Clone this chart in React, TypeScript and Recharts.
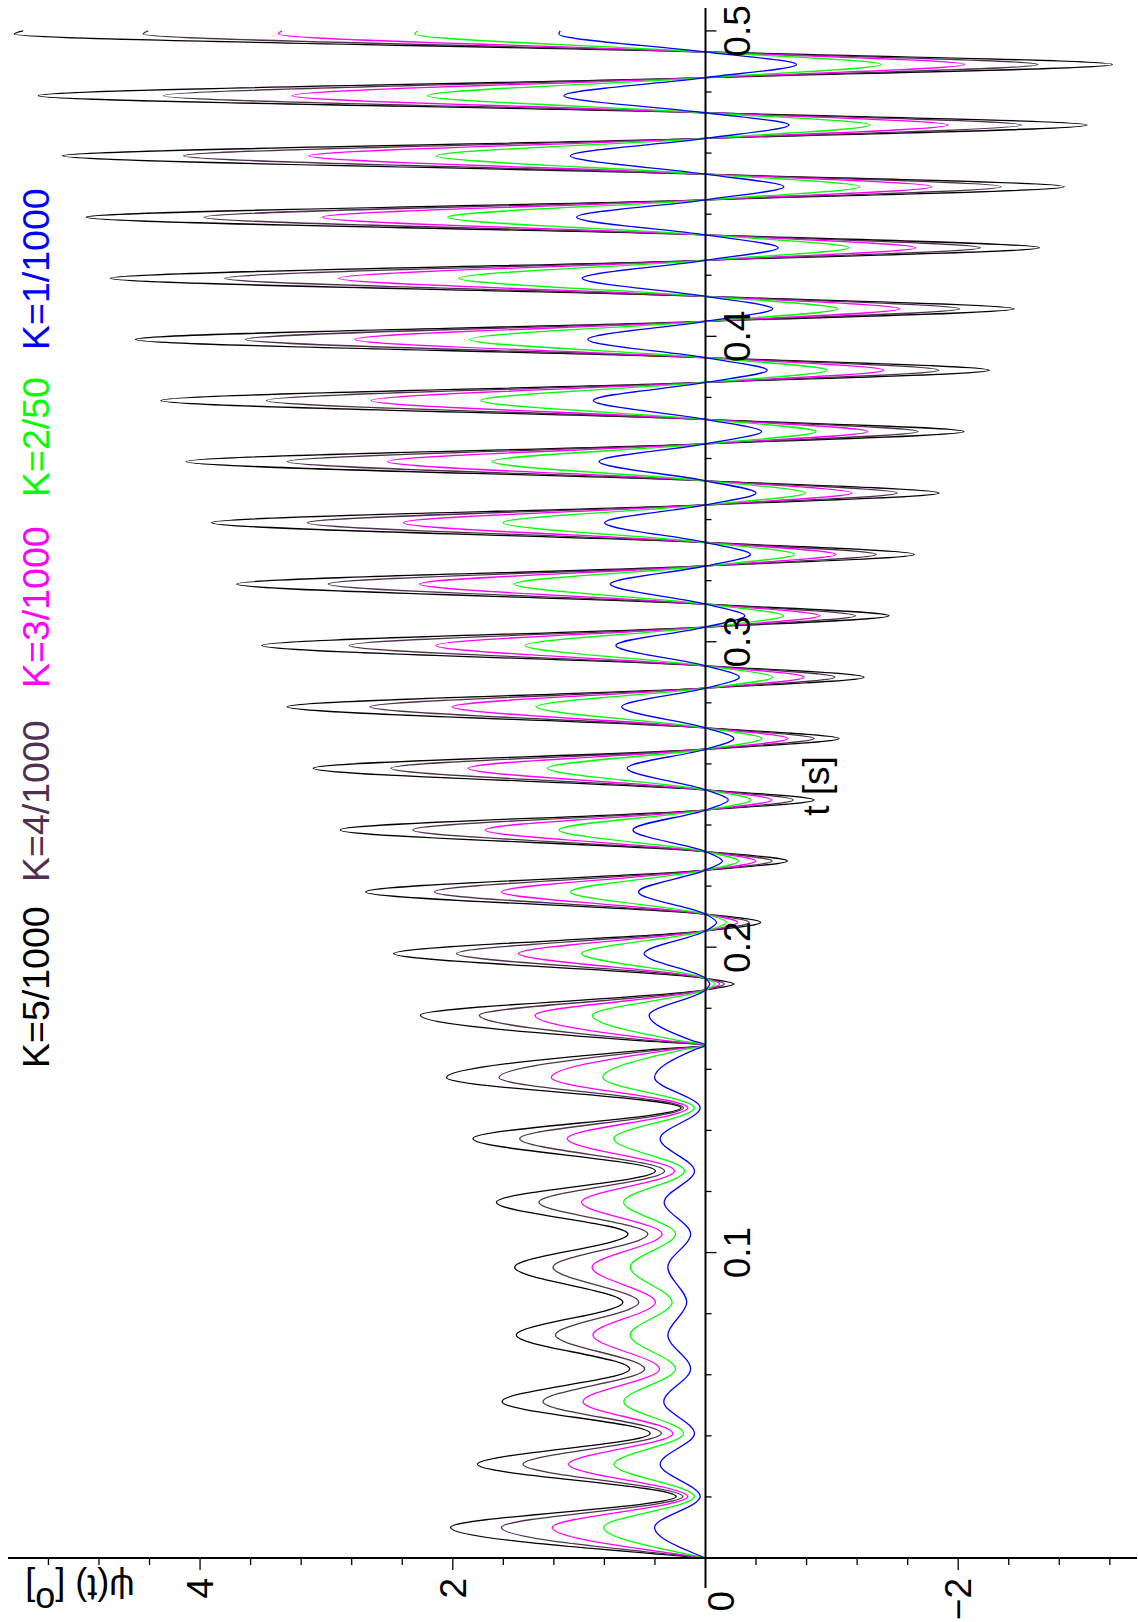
import React from 'react';
import { LineChart, Line, XAxis, YAxis, ReferenceLine } from 'recharts';

// chart is drawn upright (t across, psi up) and the whole thing is turned -90deg
const W = 1622;
const H = 1138;
const AXIS_X = 64;
const ZERO_Y = 705.5;
const FONT = '"Liberation Sans", Arial, Helvetica, sans-serif';

// first part: peaks and troughs before the switching instant
const T_PHASE1 = [0, 0.01, 0.0201, 0.0307, 0.0408, 0.0512, 0.0619, 0.073, 0.0837, 0.0952, 0.1061, 0.1165, 0.1267, 0.1373, 0.1474, 0.1573];
const K5_PHASE1 = [0, 2.018, 0.232, 1.805, 0.438, 1.61, 0.6, 1.497, 0.654, 1.51, 0.614, 1.655, 0.396, 1.84, 0.193, 2.05];
const K4_PHASE1 = [0, 1.615, 0.179, 1.444, 0.35, 1.286, 0.482, 1.188, 0.527, 1.207, 0.456, 1.318, 0.324, 1.47, 0.174, 1.634];
const K3_PHASE1 = [0, 1.212, 0.14, 1.083, 0.258, 0.97, 0.364, 0.891, 0.396, 0.898, 0.343, 0.982, 0.245, 1.093, 0.14, 1.22];
const K2_PHASE1 = [0, 0.806, 0.087, 0.725, 0.174, 0.646, 0.237, 0.596, 0.264, 0.595, 0.237, 0.648, 0.166, 0.725, 0.087, 0.812];
const K1_PHASE1 = [0, 0.403, 0.042, 0.359, 0.087, 0.33, 0.118, 0.298, 0.148, 0.298, 0.118, 0.327, 0.087, 0.359, 0.042, 0.403];

// the point where all curves touch zero
const T_CUSP = [0.1664, 0.1679, 0.1694];
const K5_CUSP = [0.45, 0, 0.53];
const K4_CUSP = [0.36, 0, 0.43];
const K3_CUSP = [0.27, 0, 0.32];
const K2_CUSP = [0.18, 0, 0.21];
const K1_CUSP = [0.09, 0, 0.105];

// second part: positive peaks, zero crossings, negative peaks
const T_POS = [0.1777, 0.1979, 0.2181, 0.2384, 0.2586, 0.2787, 0.2988, 0.3189, 0.339, 0.359, 0.379, 0.399, 0.419, 0.439, 0.4591, 0.4788, 0.499];
const T_NEG = [0.1879, 0.2081, 0.2282, 0.2482, 0.2683, 0.2884, 0.3085, 0.3286, 0.3487, 0.3688, 0.3889, 0.409, 0.429, 0.449, 0.4692, 0.489];
const T_NODE = [
  0.186, 0.1898, 0.2053, 0.2108, 0.2252, 0.2313, 0.2449, 0.2515, 0.2648, 0.2718, 0.2848, 0.2921,
  0.3048, 0.3123, 0.3248, 0.3325, 0.3448, 0.3527, 0.3648, 0.3728, 0.3849, 0.393, 0.4049, 0.4131,
  0.4249, 0.4332, 0.4447, 0.4531, 0.4648, 0.4732, 0.4847, 0.4931,
];
const T_END = 0.5;

const K5_POS = [2.257, 2.468, 2.689, 2.892, 3.104, 3.31, 3.51, 3.71, 3.91, 4.11, 4.31, 4.51, 4.71, 4.9, 5.09, 5.28, 5.47];
const K4_POS = [1.79, 1.97, 2.145, 2.317, 2.49, 2.655, 2.82, 2.985, 3.15, 3.31, 3.475, 3.64, 3.805, 3.97, 4.13, 4.29, 4.45];
const K3_POS = [1.349, 1.48, 1.613, 1.743, 1.878, 2.006, 2.134, 2.262, 2.39, 2.518, 2.646, 2.774, 2.902, 3.03, 3.14, 3.27, 3.38];
const K2_POS = [0.896, 0.981, 1.068, 1.159, 1.25, 1.338, 1.426, 1.513, 1.601, 1.689, 1.777, 1.865, 1.952, 2.04, 2.13, 2.2, 2.3];
const K1_POS = [0.446, 0.486, 0.53, 0.575, 0.62, 0.664, 0.709, 0.753, 0.798, 0.842, 0.887, 0.931, 0.976, 1.02, 1.07, 1.12, 1.16];

const K5_NEG = [-0.225, -0.436, -0.648, -0.859, -1.057, -1.255, -1.453, -1.651, -1.849, -2.047, -2.245, -2.443, -2.641, -2.84, -3.02, -3.22];
const K4_NEG = [-0.149, -0.345, -0.527, -0.694, -0.859, -1.023, -1.188, -1.352, -1.517, -1.682, -1.846, -2.011, -2.175, -2.34, -2.5, -2.63];
const K3_NEG = [-0.112, -0.254, -0.4, -0.527, -0.653, -0.78, -0.906, -1.032, -1.159, -1.285, -1.411, -1.538, -1.664, -1.79, -1.92, -2.05];
const K2_NEG = [-0.073, -0.164, -0.263, -0.36, -0.446, -0.532, -0.618, -0.704, -0.79, -0.876, -0.962, -1.048, -1.134, -1.22, -1.3, -1.39];
const K1_NEG = [-0.034, -0.087, -0.134, -0.18, -0.224, -0.268, -0.312, -0.356, -0.4, -0.444, -0.488, -0.532, -0.576, -0.62, -0.66, -0.72];

const K5_END = 5.4;
const K4_END = 4.41;
const K3_END = 3.35;
const K2_END = 2.28;
const K1_END = 1.15;

const T_TICKS = [0.02, 0.04, 0.06, 0.08, 0.1, 0.12, 0.14, 0.16, 0.18, 0.2, 0.22, 0.24, 0.26, 0.28, 0.3, 0.32, 0.34, 0.36, 0.38, 0.4, 0.42, 0.44, 0.46, 0.48, 0.5];
const PSI_TICKS = [-3.2, -2.8, -2.4, -2, -1.6, -1.2, -0.8, -0.4, 0, 0.4, 0.8, 1.2, 1.6, 2, 2.4, 2.8, 3.2, 3.6, 4, 4.4, 4.8, 5.2];

const SERIES = [
  { key: 'k5', label: 'K=5/1000', color: '#000000', phase1: K5_PHASE1, cusp: K5_CUSP, pos: K5_POS, neg: K5_NEG, end: K5_END, lx: 554 },
  { key: 'k4', label: 'K=4/1000', color: '#503050', phase1: K4_PHASE1, cusp: K4_CUSP, pos: K4_POS, neg: K4_NEG, end: K4_END, lx: 740 },
  { key: 'k3', label: 'K=3/1000', color: '#ff00ff', phase1: K3_PHASE1, cusp: K3_CUSP, pos: K3_POS, neg: K3_NEG, end: K3_END, lx: 934 },
  { key: 'k2', label: 'K=2/50', color: '#00ff00', phase1: K2_PHASE1, cusp: K2_CUSP, pos: K2_POS, neg: K2_NEG, end: K2_END, lx: 1125 },
  { key: 'k1', label: 'K=1/1000', color: '#0000ff', phase1: K1_PHASE1, cusp: K1_CUSP, pos: K1_POS, neg: K1_NEG, end: K1_END, lx: 1272 },
];

function buildRows() {
  const rows: any[] = [];
  const add = (t: number, pick: (s: any) => number) => {
    const r: any = { t };
    SERIES.forEach((s) => (r[s.key] = pick(s)));
    rows.push(r);
  };
  T_PHASE1.forEach((t, i) => add(t, (s) => s.phase1[i]));
  T_CUSP.forEach((t, i) => add(t, (s) => s.cusp[i]));
  T_POS.forEach((t, n) => {
    add(t, (s) => s.pos[n]);
    if (n < T_NEG.length) {
      add(T_NODE[2 * n], () => 0);
      add(T_NEG[n], (s) => s.neg[n]);
      add(T_NODE[2 * n + 1], () => 0);
    }
  });
  add(T_END, (s) => s.end);
  return rows;
}

const rows = buildRows();

const XTick = (props: any) => {
  const { x, payload } = props;
  const v = payload.value;
  const major = Math.abs(v * 10 - Math.round(v * 10)) < 1e-6;
  return (
    <g>
      <line x1={x} x2={x} y1={ZERO_Y} y2={ZERO_Y + (major ? 11 : 6)} stroke="#000" strokeWidth={1.3} />
      {major && (
        <text x={x} y={750} textAnchor="middle" fontSize={37} fontFamily={FONT} fill="#000">
          {v.toFixed(1)}
        </text>
      )}
    </g>
  );
};

const YTick = (props: any) => {
  const { y, payload } = props;
  const v = payload.value;
  if (Math.abs(v) < 1e-9) {
    return (
      <text x={31} y={y + 29} textAnchor="end" fontSize={37} fontFamily={FONT} fill="#000">0</text>
    );
  }
  const major = Math.abs(v / 2 - Math.round(v / 2)) < 1e-6;
  return (
    <g>
      <line x1={AXIS_X} x2={AXIS_X - (major ? 12 : 7)} y1={y} y2={y} stroke="#000" strokeWidth={1.3} />
      {major && (
        <text x={44} y={y + 13} textAnchor="end" fontSize={37} fontFamily={FONT} fill="#000">
          {v < 0 ? '\u2212' + Math.abs(v) : String(v)}
        </text>
      )}
    </g>
  );
};

export default function App() {
  return (
    <div style={{ position: 'absolute', left: 0, top: 0, width: H, height: W, overflow: 'hidden', background: '#fff' }}>
      <div
        style={{
          position: 'absolute',
          left: 0,
          top: 0,
          width: W,
          height: H,
          transformOrigin: '0 0',
          transform: `translate(0px, ${W}px) rotate(-90deg)`,
        }}
      >
        <LineChart width={W} height={H} data={rows} margin={{ top: 8, right: 8, bottom: 0, left: 0 }}>
          <XAxis
            dataKey="t"
            type="number"
            domain={[0, 0.5075]}
            ticks={T_TICKS}
            interval={0}
            axisLine={false}
            tickLine={false}
            height={1}
            tick={<XTick />}
            allowDataOverflow
          />
          <YAxis
            type="number"
            domain={[-3.415, 5.52]}
            ticks={PSI_TICKS}
            interval={0}
            width={64}
            axisLine={{ stroke: '#000', strokeWidth: 2 }}
            tickLine={false}
            tick={<YTick />}
            allowDataOverflow
          />
          {SERIES.map((s) => (
            <Line
              key={s.key}
              dataKey={s.key}
              type="monotone"
              stroke={s.color}
              strokeWidth={1.3}
              dot={false}
              activeDot={false}
              isAnimationActive={false}
            />
          ))}
          <ReferenceLine
            segment={[{ x: -0.0098, y: 0 }, { x: 0.5075, y: 0 }]}
            ifOverflow="visible"
            stroke="#000"
            strokeWidth={2}
          />
        </LineChart>
        <svg
          width={W}
          height={H}
          style={{ position: 'absolute', left: 0, top: 0, pointerEvents: 'none' }}
        >
          {SERIES.map((s) => (
            <text key={s.key} x={s.lx} y={49} fontSize={37.5} fontFamily={FONT} fill={s.color}>
              {s.label}
            </text>
          ))}
          <text x={836} y={829} textAnchor="middle" fontSize={37} fontFamily={FONT} fill="#000">
            t [s]
          </text>
          <text
            x={47}
            y={80}
            transform="rotate(-90 47 80)"
            textAnchor="middle"
            fontSize={36}
            fontFamily={FONT}
            fill="#000"
          >
            ψ(t) [<tspan dy={-13}>o</tspan>
            <tspan dy={13}>]</tspan>
          </text>
        </svg>
      </div>
    </div>
  );
}
